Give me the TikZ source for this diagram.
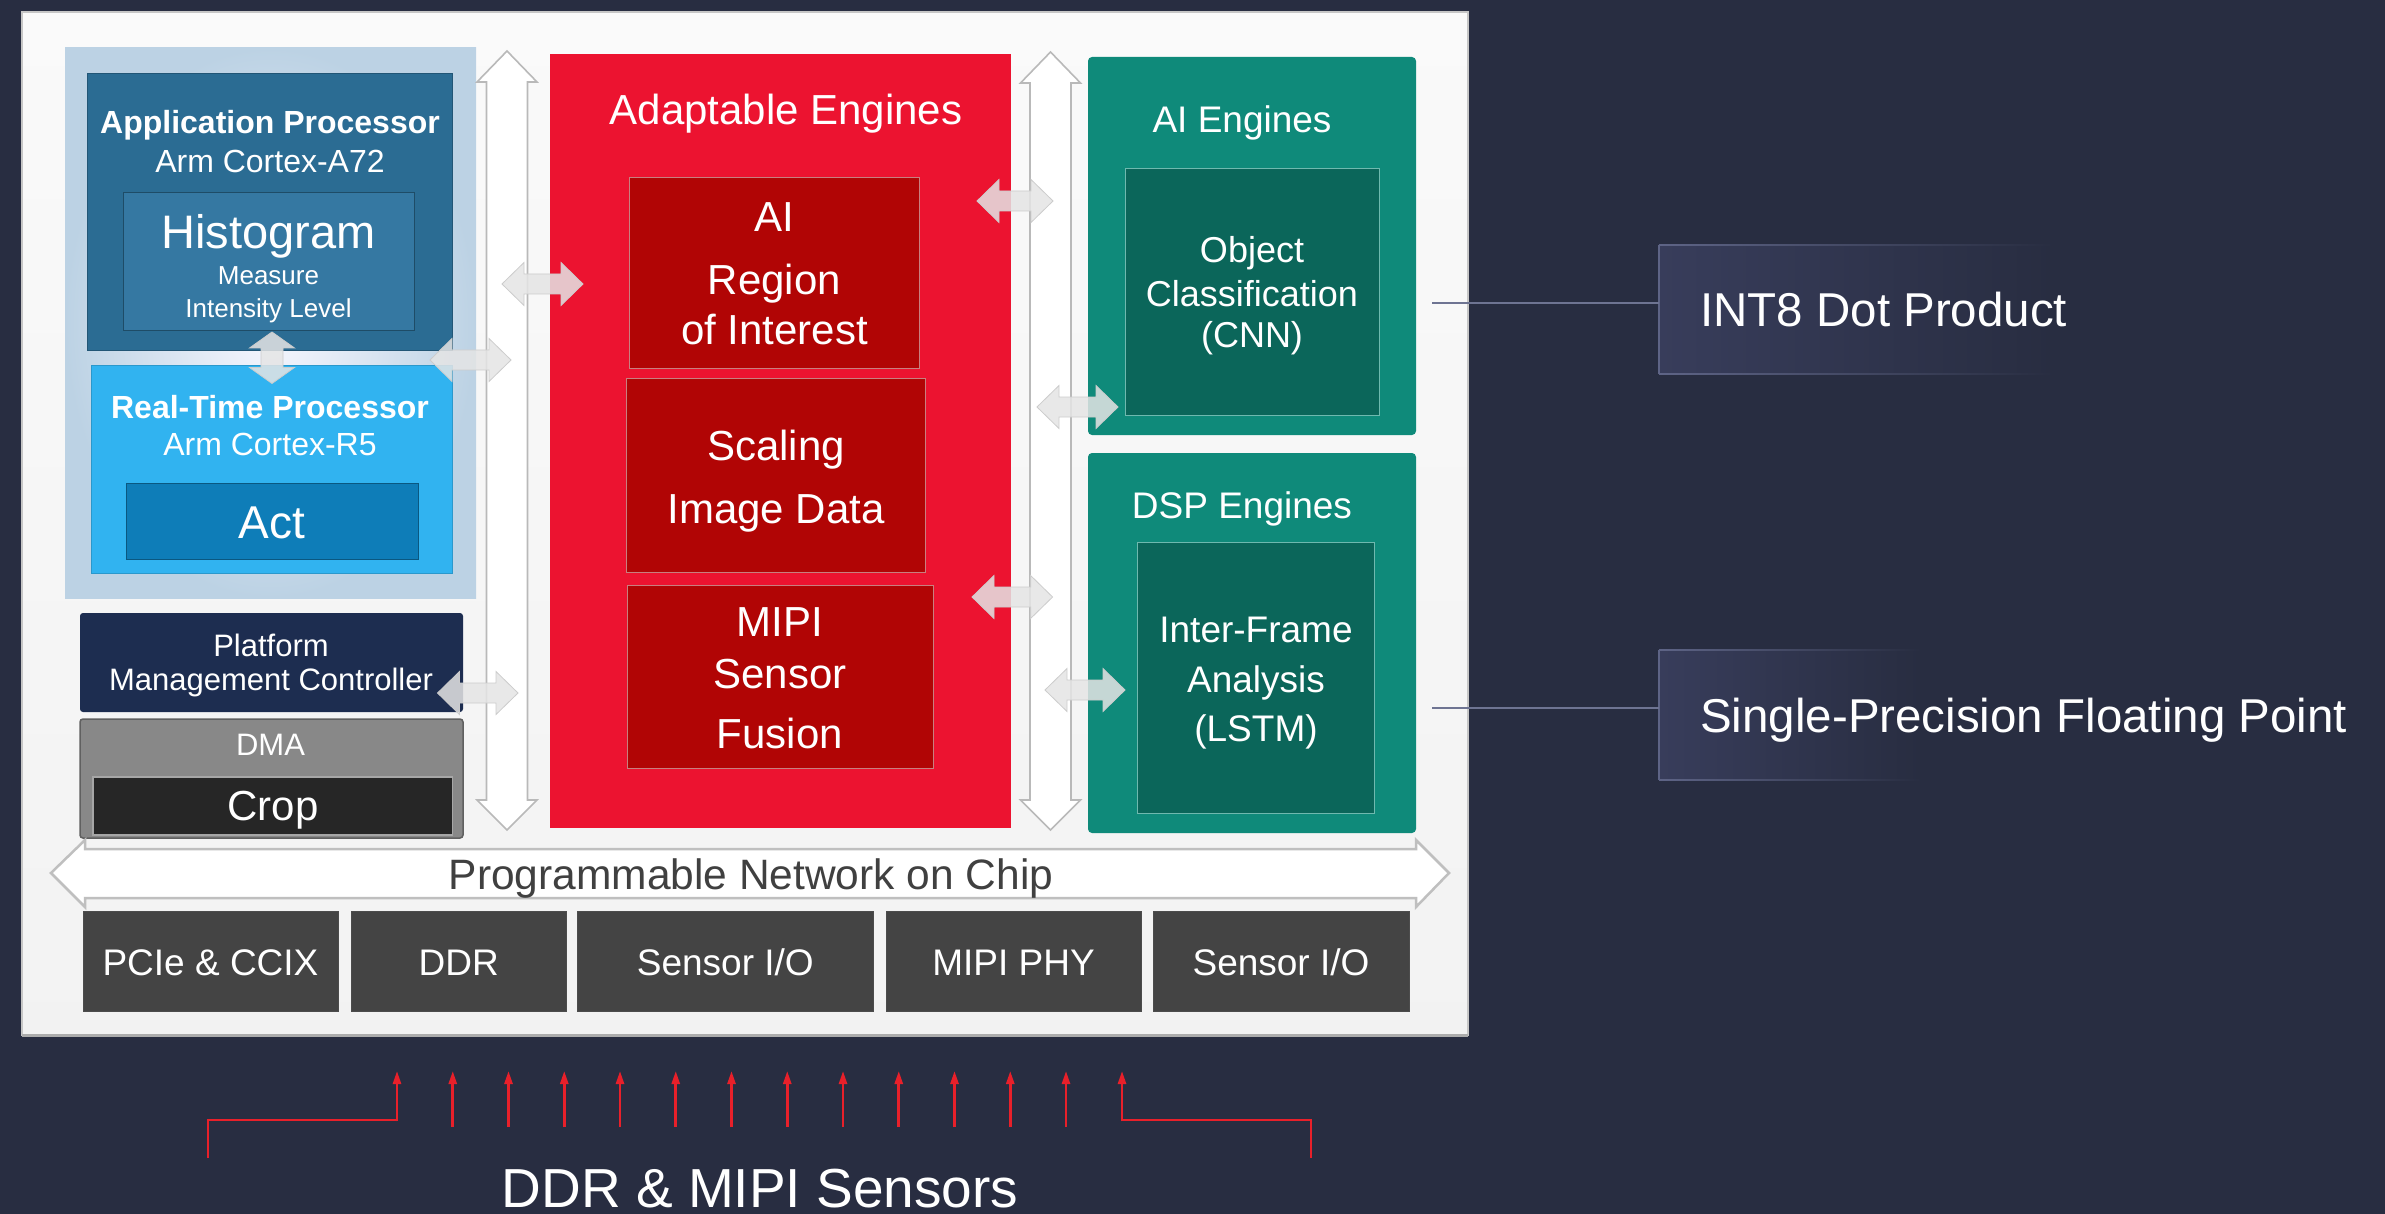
\documentclass[tikz,border=0pt]{standalone}
\usepackage{fontspec}
\setmainfont{Liberation Sans}
\usetikzlibrary{arrows.meta}
\definecolor{bg}{HTML}{282D41}
\definecolor{apblue}{HTML}{2B6C93}
\definecolor{histblue}{HTML}{3578A2}
\definecolor{rtblue}{HTML}{31B3F0}
\definecolor{actblue}{HTML}{0E7DB8}
\definecolor{pmcnavy}{HTML}{1D2D50}
\definecolor{dmagray}{HTML}{888888}
\definecolor{cropblack}{HTML}{262626}
\definecolor{aered}{HTML}{EC1330}
\definecolor{darkred}{HTML}{B10505}
\definecolor{tealA}{HTML}{0F8A7A}
\definecolor{tealB}{HTML}{0B665A}
\definecolor{iogray}{HTML}{444444}
\definecolor{nocgray}{HTML}{404040}
\definecolor{annofill}{HTML}{383D5B}
\definecolor{annoline}{HTML}{5E6486}
\definecolor{sensred}{HTML}{E8202A}
\newcommand\fs[1]{\fontsize{#1}{#1}\selectfont}
\newcommand\blk[6]{\node[box,#2,minimum width={#5-#3},minimum height={#6-#4}] (#1) at (#3,#4) {};}
\newcommand\hdarr[3]{\path[smallarr] (#1,#3) -- (#1+22,#3-21.5) -- (#1+22,#3-10) -- (#2-22,#3-10) -- (#2-22,#3-21.5) -- (#2,#3) -- (#2-22,#3+21.5) -- (#2-22,#3+10) -- (#1+22,#3+10) -- (#1+22,#3+21.5) -- cycle;}
\newcommand\vdarr[3]{\path[smallarr] (#1,#2) -- (#1+22.5,#2+16) -- (#1+11,#2+16) -- (#1+11,#3-16) -- (#1+22.5,#3-16) -- (#1,#3) -- (#1-22.5,#3-16) -- (#1-11,#3-16) -- (#1-11,#2+16) -- (#1-22.5,#2+16) -- cycle;}
\newcommand\busv[3]{\path[busarr] (#1,#2) -- (#1+30,#2+31) -- (#1+20.5,#2+31) -- (#1+20.5,#3-30) -- (#1+30,#3-30) -- (#1,#3) -- (#1-30,#3-30) -- (#1-20.5,#3-30) -- (#1-20.5,#2+31) -- (#1-30,#2+31) -- cycle;}
\begin{document}
\begin{tikzpicture}[x=1pt,y=-1pt,
  box/.style={inner sep=0pt, outer sep=0pt, anchor=north west},
  lbl/.style={inner sep=0pt, anchor=base, text=white},
  busarr/.style={fill=white, draw=gray!55, line width=1.6pt, line join=miter},
  smallarr/.style={fill=gray!20, fill opacity=0.85, draw=gray!40, line width=0.8pt},
  conn/.style={draw=annoline!90!white, line width=1.5pt},
  sens/.style={draw=sensred, line width=2.6pt, -{Triangle[length=13pt,width=8pt]}},
  sensline/.style={draw=sensred, line width=2.8pt}]
\useasboundingbox (0,0) rectangle (2385,1214);
\fill[bg] (0,0) rectangle (2385,1214);

% main panel
\blk{panel}{top color=gray!4, bottom color=gray!10, draw=gray!45, line width=1.5pt}{22}{12}{1468}{1035}
\draw[gray!65, line width=3pt] (panel.south west) -- (panel.south east);

% processing system region
\blk{psreg}{inner color=blue!3!white, outer color={rgb,255:red,188;green,210;blue,228}}{65}{48}{476}{598}
\blk{ap}{fill=apblue, draw=apblue!80!black, line width=1pt}{87.5}{73.5}{452.5}{351}
\blk{hist}{fill=histblue, draw=apblue!70!black, line width=1pt}{123}{193}{414}{331}
\blk{rt}{fill=rtblue, draw=rtblue!85!black, line width=0.8pt}{91}{365}{452.5}{573}
\blk{act}{fill=actblue, draw=actblue!70!black, line width=1pt}{126}{483}{418}{559}
\node[lbl, font=\fs{32}\bfseries] (apt1) at (270,134) {Application Processor};
\node[lbl, font=\fs{32}] (apt2) at (270,173) {Arm Cortex-A72};
\node[lbl, font=\fs{47}] (ht1) at (268.5,249) {Histogram};
\node[lbl, font=\fs{26}] (ht2) at (268.5,285) {Measure};
\node[lbl, font=\fs{26}] (ht3) at (268.5,317.5) {Intensity Level};
\node[lbl, font=\fs{32}\bfseries] (rtt1) at (270,418) {Real-Time Processor};
\node[lbl, font=\fs{32}] (rtt2) at (270,455.5) {Arm Cortex-R5};
\node[lbl, font=\fs{46}] (actt) at (272,538.5) {Act};

% PMC and DMA
\blk{pmc}{fill=pmcnavy, rounded corners=3pt}{80}{613}{463}{712}
\node[lbl, font=\fs{31}] (pmct1) at (271,656) {Platform};
\node[lbl, font=\fs{31}] (pmct2) at (271,690) {Management Controller};
\blk{dma}{fill=dmagray, draw=gray!75!black, line width=1.5pt, rounded corners=3pt}{80}{719}{463}{838}
\blk{crop}{fill=cropblack, draw=gray!70, line width=1.5pt}{93}{777}{452.5}{835}
\node[lbl, font=\fs{31}] (dmat) at (270.5,755) {DMA};
\node[lbl, font=\fs{42}] (cropt) at (273,820.7) {Crop};

% vertical buses
\busv{507}{51}{830}
\busv{1050.5}{52}{830}

% adaptable engines
\blk{ae}{fill=aered}{550}{53.6}{1011}{828}
\node[lbl, font=\fs{42}] (aet) at (786,125) {Adaptable Engines};
\blk{roi}{fill=darkred, draw={rgb,255:red,200;green,128;blue,128}, line width=1pt}{629}{178}{919.7}{368.6}
\node[lbl, font=\fs{42}] (roit1) at (774.5,232) {AI};
\node[lbl, font=\fs{42}] (roit2) at (774.5,294.6) {Region};
\node[lbl, font=\fs{42}] (roit3) at (774.5,344.6) {of Interest};
\blk{scal}{fill=darkred, draw={rgb,255:red,200;green,128;blue,128}, line width=1pt}{626}{379}{925.6}{572}
\node[lbl, font=\fs{42}] (scalt1) at (776,460.7) {Scaling};
\node[lbl, font=\fs{42}] (scalt2) at (776,523) {Image Data};
\blk{mipi}{fill=darkred, draw={rgb,255:red,200;green,128;blue,128}, line width=1pt}{627}{585}{933}{768}
\node[lbl, font=\fs{42}] (mipit1) at (780,636.7) {MIPI};
\node[lbl, font=\fs{42}] (mipit2) at (780,688) {Sensor};
\node[lbl, font=\fs{42}] (mipit3) at (780,748) {Fusion};

% AI engines and DSP engines
\blk{aie}{fill=tealA, rounded corners=4pt}{1088}{57}{1416}{435}
\node[lbl, font=\fs{37}] (aiet) at (1242,133) {AI Engines};
\blk{obj}{fill=tealB, draw=tealA!60!white, line width=1pt}{1125}{169}{1379}{415}
\node[lbl, font=\fs{36}] (objt1) at (1252,262.5) {Object};
\node[lbl, font=\fs{36}] (objt2) at (1252,307) {Classification};
\node[lbl, font=\fs{36}] (objt3) at (1252,347.5) {(CNN)};
\blk{dsp}{fill=tealA, rounded corners=4pt}{1088}{453}{1416}{833}
\node[lbl, font=\fs{37}] (dspt) at (1242,518) {DSP Engines};
\blk{ifa}{fill=tealB, draw=tealA!60!white, line width=1pt}{1137}{542}{1374}{813}
\node[lbl, font=\fs{37}] (ifat1) at (1256,642) {Inter-Frame};
\node[lbl, font=\fs{37}] (ifat2) at (1256,692) {Analysis};
\node[lbl, font=\fs{37}] (ifat3) at (1256,741) {(LSTM)};

% network on chip
\path[busarr, draw=gray!50, line width=2.5pt] (51,873) -- (85,840) -- (85,849) -- (1416,849) -- (1416,840) -- (1449,873) -- (1416,907) -- (1416,898) -- (85,898) -- (85,907) -- cycle;
\node[lbl, text=nocgray, font=\fs{42.5}] (noct) at (751,889) {Programmable Network on Chip};

% I/O blocks
\blk{io1}{fill=iogray, draw=gray!60!black, line width=1pt}{83}{911.7}{338}{1011}
\blk{io2}{fill=iogray, draw=gray!60!black, line width=1pt}{351}{911.7}{566.6}{1011}
\blk{io3}{fill=iogray, draw=gray!60!black, line width=1pt}{577}{911.7}{873.5}{1011}
\blk{io4}{fill=iogray, draw=gray!60!black, line width=1pt}{886}{911.7}{1141}{1011}
\blk{io5}{fill=iogray, draw=gray!60!black, line width=1pt}{1153}{911.7}{1409}{1011}
\node[lbl, font=\fs{37}] (io1t) at (210.5,975) {PCIe \& CCIX};
\node[lbl, font=\fs{37}] (io2t) at (458.8,975) {DDR};
\node[lbl, font=\fs{37}] (io3t) at (725.3,975) {Sensor I/O};
\node[lbl, font=\fs{37}] (io4t) at (1013.5,975) {MIPI PHY};
\node[lbl, font=\fs{37}] (io5t) at (1281,975) {Sensor I/O};

% small double arrows
\vdarr{272}{332}{383.5}
\hdarr{430}{511}{360}
\hdarr{437.5}{518}{693}
\hdarr{502}{583}{284}
\hdarr{977}{1053}{201}
\hdarr{972}{1052.6}{597}
\hdarr{1037}{1118}{407}
\hdarr{1045}{1125}{690}

% annotation boxes
\blk{int8}{left color=annofill, right color=bg}{1659}{245}{2053}{374}
\shade[left color=annoline, right color=bg] (1659,244.3) rectangle (2053,245.7);
\shade[left color=annoline, right color=bg] (1659,373.3) rectangle (2053,374.7);
\draw[annoline, line width=1.4pt] (int8.north west) -- (int8.south west);
\node[lbl, anchor=base west, font=\fs{47.5}] (int8t) at (1700,327) {INT8 Dot Product};
\blk{spfp}{left color=annofill, right color=bg}{1659}{650}{1921}{780}
\shade[left color=annoline, right color=bg] (1659,649.3) rectangle (1921,650.7);
\shade[left color=annoline, right color=bg] (1659,779.3) rectangle (1921,780.7);
\draw[annoline, line width=1.4pt] (spfp.north west) -- (spfp.south west);
\node[lbl, anchor=base west, font=\fs{47.5}] (spfpt) at (1700,732) {Single-Precision Floating Point};
\coordinate (c1) at (1432,303);
\coordinate (c2) at (1432,708);
\draw[conn] (c1) -- (c1 -| int8.west);
\draw[conn] (c2) -- (c2 -| spfp.west);

% sensor inputs
\foreach \i in {1,...,12} {\draw[sens] (397+55.75*\i,1127) -- (397+55.75*\i,1071);}
\draw[sensline] (208,1158) -- (208,1120) -- (397,1120);
\draw[sens] (397,1121.4) -- (397,1071);
\draw[sensline] (1311,1158) -- (1311,1120) -- (1122,1120);
\draw[sens] (1122,1121.4) -- (1122,1071);
\node[lbl, font=\fs{55}] (ddrt) at (760,1207) {DDR \& MIPI Sensors};
\end{tikzpicture}
\end{document}
